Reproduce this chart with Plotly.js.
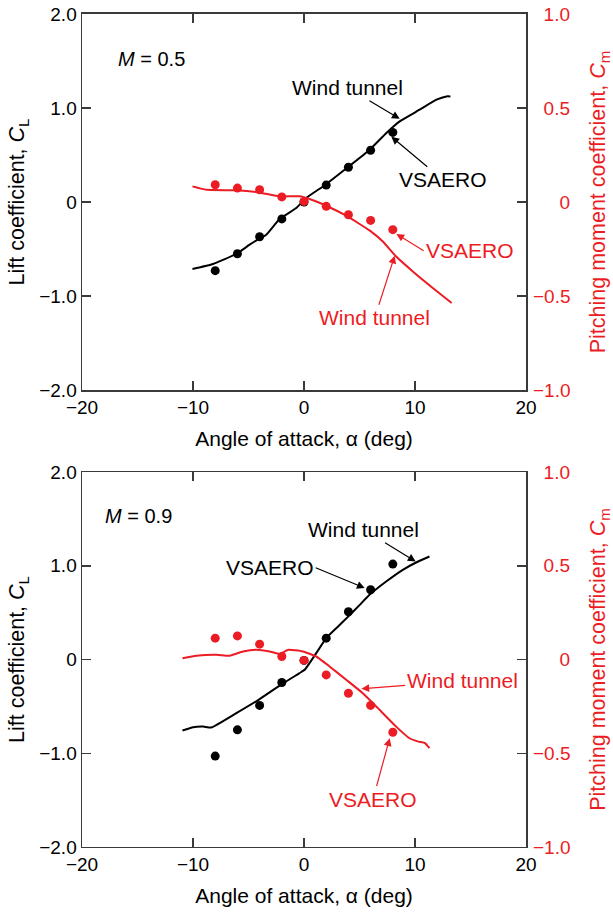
<!DOCTYPE html>
<html>
<head>
<meta charset="utf-8">
<script src="https://cdn.plot.ly/plotly-3.0.1.min.js"></script>
<style>
  html, body { margin: 0; padding: 0; background: #ffffff; }
  #chart { width: 613px; height: 913px; }
</style>
</head>
<body>
<div id="chart"></div>
<script>
// Angle-of-attack grid of the panel-code (VSAERO) runs
const alphaVsaero = [-8, -6, -4, -2, 0, 2, 4, 6, 8];

// M = 0.5
const clVsaeroM05 = [-0.73, -0.55, -0.37, -0.18, 0.0, 0.18, 0.37, 0.55, 0.74];
const cmVsaeroM05 = [0.092, 0.074, 0.065, 0.027, 0.003, -0.023, -0.068, -0.098, -0.147];
const alphaTunnelM05Cl = [-10.05, -8.2, -6.1, -4.9, -4.1, -3.4, -2.2, -0.7, 0.2, 1.93, 3.97, 5.92, 7.42, 8.62, 10.42, 11.93, 12.83, 13.19];
const clTunnelM05 = [-0.713, -0.66, -0.553, -0.454, -0.394, -0.348, -0.181, -0.064, 0.043, 0.184, 0.372, 0.556, 0.734, 0.858, 0.982, 1.088, 1.123, 1.123];
const alphaTunnelM05Cm = [-10.05, -8.8, -6.1, -4.1, -2.2, -0.4, 0.5, 2.0, 3.8, 5.9, 7.1, 8.3, 9.8, 11.6, 13.3];
const cmTunnelM05 = [0.083, 0.065, 0.062, 0.051, 0.030, 0.030, 0.016, -0.020, -0.073, -0.151, -0.21, -0.29, -0.369, -0.457, -0.537];

// M = 0.9
const clVsaeroM09 = [-1.03, -0.75, -0.49, -0.245, -0.01, 0.228, 0.51, 0.744, 1.018];
const cmVsaeroM09 = [0.114, 0.126, 0.082, 0.016, -0.005, -0.082, -0.18, -0.245, -0.388];
const alphaTunnelM09Cl = [-10.95, -10.0, -9.1, -8.35, -6.1, -4.1, -2.0, -0.4, 0.06, 1.1, 2.0, 3.0, 4.0, 5.0, 5.9, 7.4, 8.9, 10.1, 11.3];
const clTunnelM09 = [-0.757, -0.722, -0.715, -0.725, -0.572, -0.43, -0.263, -0.145, -0.11, 0.068, 0.228, 0.345, 0.46, 0.58, 0.69, 0.832, 0.957, 1.035, 1.099];
const alphaTunnelM09Cm = [-10.95, -9.7, -7.9, -6.7, -5.5, -4.3, -3.1, -2.2, -1.4, -0.1, 1.1, 2.3, 3.8, 5.3, 6.8, 8.3, 9.5, 10.3, 10.9, 11.3];
const cmTunnelM09 = [0.007, 0.02, 0.025, 0.02, 0.043, 0.052, 0.043, 0.030, 0.052, 0.043, 0.016, -0.037, -0.108, -0.18, -0.268, -0.358, -0.42, -0.438, -0.446, -0.473];

// Tick values and labels
const alphaTicks = [-20, -10, 0, 10, 20];
const alphaTickText = ['\u221220', '\u221210', '0', '10', '20'];
const clTicks = [-2, -1, 0, 1, 2];
const clTickText = ['\u22122.0', '\u22121.0', '0', '1.0', '2.0'];
const cmTicks = [-1, -0.5, 0, 0.5, 1];
// figure/punctuation spaces keep the right-hand labels flush right
const cmTickText = ['\u22121.0', '\u22120.5', '\u2007\u2007\u20080', '\u20070.5', '\u20071.0'];

const RED = '#ec1c24';
const FRAME = '#3a3a3a';
const FONT = 'Liberation Sans, Arial, Helvetica, sans-serif';

function tunnelLine(x, y, xa, ya, color) {
  return { x: x, y: y, xaxis: xa, yaxis: ya, type: 'scatter', mode: 'lines',
           line: { color: color, width: 2, shape: 'spline', smoothing: 0.4 },
           hoverinfo: 'skip' };
}
function vsaeroDots(x, y, xa, ya, color) {
  return { x: x, y: y, xaxis: xa, yaxis: ya, type: 'scatter', mode: 'markers',
           marker: { color: color, size: 9 }, hoverinfo: 'skip' };
}

const data = [
  tunnelLine(alphaTunnelM05Cl, clTunnelM05, 'x', 'y', '#000'),
  vsaeroDots(alphaVsaero, clVsaeroM05, 'x', 'y', '#000'),
  tunnelLine(alphaTunnelM05Cm, cmTunnelM05, 'x', 'y2', RED),
  vsaeroDots(alphaVsaero, cmVsaeroM05, 'x', 'y2', RED),
  tunnelLine(alphaTunnelM09Cl, clTunnelM09, 'x2', 'y3', '#000'),
  vsaeroDots(alphaVsaero, clVsaeroM09, 'x2', 'y3', '#000'),
  tunnelLine(alphaTunnelM09Cm, cmTunnelM09, 'x2', 'y4', RED),
  vsaeroDots(alphaVsaero, cmVsaeroM09, 'x2', 'y4', RED)
];

function alphaAxis(anchor) {
  return {
    domain: [0.1338, 0.8581], range: [-20, 20], anchor: anchor,
    tickmode: 'array', tickvals: alphaTicks, ticktext: alphaTickText,
    ticks: 'inside', ticklen: 9, tickwidth: 1.5, tickcolor: FRAME,
    showline: true, linecolor: FRAME, linewidth: 1.5, mirror: 'ticks',
    showgrid: false, zeroline: false,
    tickfont: { family: FONT, size: 19, color: '#000' },
    title: { text: 'Angle of attack, \u03b1 (deg)', standoff: 14,
             font: { family: FONT, size: 21, color: '#000' } }
  };
}
function clAxis(domain, anchor) {
  return {
    domain: domain, range: [-2, 2], anchor: anchor,
    tickmode: 'array', tickvals: clTicks, ticktext: clTickText,
    ticks: 'inside', ticklen: 9, tickwidth: 1.5, tickcolor: FRAME,
    showline: true, linecolor: FRAME, linewidth: 1.5, mirror: 'ticks',
    showgrid: false, zeroline: false,
    tickfont: { family: FONT, size: 19, color: '#000' },
    title: { text: 'Lift coefficient, <i>C</i><sub>L</sub>', standoff: 8,
             font: { family: FONT, size: 21.5, color: '#000' } }
  };
}
function cmAxis(over, anchor) {
  return {
    overlaying: over, side: 'right', anchor: anchor, range: [-1, 1],
    tickmode: 'array', tickvals: cmTicks, ticktext: cmTickText,
    ticks: '', showline: false, showgrid: false, zeroline: false,
    ticklabelstandoff: 6,
    tickfont: { family: FONT, size: 19, color: RED },
    title: { text: 'Pitching moment coefficient, <i>C</i><sub>m</sub>', standoff: 22,
             font: { family: FONT, size: 21.5, color: RED } }
  };
}

function label(text, x, y, xa, ya, color, xanchor) {
  return { text: text, x: x, y: y, xref: xa, yref: ya, showarrow: false,
           xanchor: xanchor || 'center', yanchor: 'middle',
           font: { family: FONT, size: 20, color: color } };
}
// a label at (ax, ay) with an arrow pointing at (x, y)
function callout(text, ax, ay, x, y, xa, ya, color, xanchor, yanchor) {
  return { text: text, x: x, y: y, ax: ax, ay: ay, xref: xa, yref: ya, axref: xa, ayref: ya,
           xanchor: xanchor || 'center', yanchor: yanchor || 'middle',
           showarrow: true, arrowhead: 2, arrowsize: 1.3, arrowwidth: 1.2, arrowcolor: color,
           font: { family: FONT, size: 21, color: color } };
}

const annotations = [
  // M = 0.5
  label('<i>M</i> = 0.5', -16.9, 1.52, 'x', 'y', '#000', 'left'),
  callout('Wind tunnel', 3.94, 1.216, 8.62, 0.885, 'x', 'y', '#000'),
  callout('VSAERO', 12.5, 0.237, 7.87, 0.695, 'x', 'y', '#000'),
  callout('VSAERO', 10.78, -0.518, 8.32, -0.34, 'x', 'y', RED, 'left', 'middle'),
  callout('Wind tunnel', 6.37, -1.231, 8.17, -0.571, 'x', 'y', RED),
  // M = 0.9
  label('<i>M</i> = 0.9', -18.14, 1.535, 'x2', 'y3', '#000', 'left'),
  callout('Wind tunnel', 5.38, 1.384, 10.06, 1.046, 'x2', 'y3', '#000'),
  callout('VSAERO', 1.05, 0.979, 5.47, 0.762, 'x2', 'y3', '#000', 'right', 'middle'),
  callout('Wind tunnel', 14.25, -0.227, 5.17, -0.313, 'x2', 'y3', RED),
  callout('VSAERO', 6.22, -1.49, 7.72, -0.839, 'x2', 'y3', RED)
];

const layout = {
  width: 613, height: 913,
  margin: { l: 0, r: 0, t: 0, b: 0 },
  paper_bgcolor: '#ffffff', plot_bgcolor: '#ffffff',
  showlegend: false,
  font: { family: FONT, size: 19, color: '#000' },
  xaxis: alphaAxis('y'),
  yaxis: clAxis([0.5728, 0.9847], 'x'),
  yaxis2: cmAxis('y', 'x'),
  xaxis2: alphaAxis('y3'),
  yaxis3: clAxis([0.0723, 0.4830], 'x2'),
  yaxis4: cmAxis('y3', 'x2'),
  annotations: annotations
};

Plotly.newPlot('chart', data, layout, { staticPlot: true, displayModeBar: false });
</script>
</body>
</html>
